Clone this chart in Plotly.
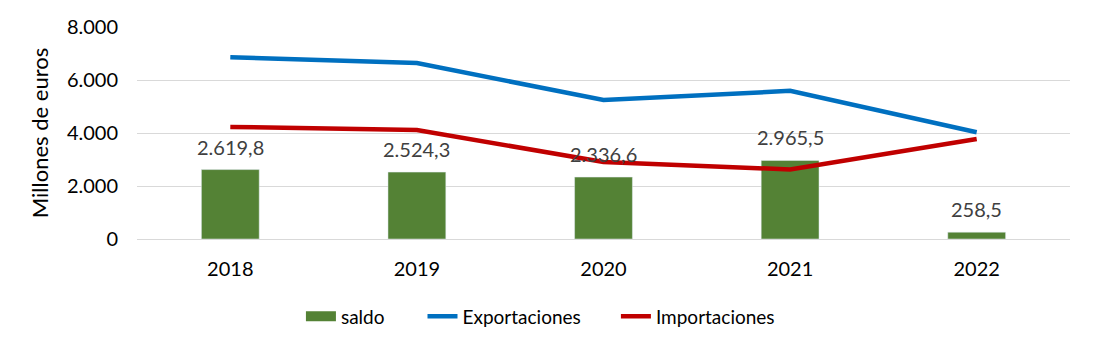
import plotly.graph_objects as go

years = ["2018", "2019", "2020", "2021", "2022"]
saldo = [2619.8, 2524.3, 2336.6, 2965.5, 258.5]
exportaciones = [6860, 6640, 5245, 5590, 4030]
importaciones = [4230, 4115, 2905, 2625, 3772]
y_ticks = [0, 2000, 4000, 6000, 8000]


def es_fmt(v, dec=1):
    s = f"{v:,.{dec}f}"
    return s.replace(",", "X").replace(".", ",").replace("X", ".")


FONT = "Lato"
fig = go.Figure()
fig.add_trace(go.Bar(x=years, y=saldo, name="saldo", marker_color="#548235",
                     width=0.31, showlegend=False))
# legend swatch for the bars (wide rectangle like the reference)
fig.add_trace(go.Scatter(x=[years[0]], y=[None], name="saldo", mode="lines",
                         line=dict(color="#548235", width=12), legend="legend"))
fig.add_trace(go.Scatter(x=years, y=exportaciones, name="Exportaciones", mode="lines",
                         line=dict(color="#0070C0", width=4.5), legend="legend2"))
fig.add_trace(go.Scatter(x=years, y=importaciones, name="Importaciones", mode="lines",
                         line=dict(color="#C00000", width=4.5), legend="legend3"))

for i, v in enumerate(saldo):
    fig.add_annotation(x=i, y=v, text=es_fmt(v), showarrow=False, yshift=23,
                       font=dict(family=FONT, size=20, color="#404040"))

leg_common = dict(orientation="h", xanchor="left", y=-0.365, yanchor="middle",
                  font=dict(family=FONT, size=19, color="#000000"),
                  bgcolor="rgba(0,0,0,0)")
fig.update_layout(
    width=1097, height=352,
    margin=dict(l=137, r=27, t=27, b=113),
    plot_bgcolor="white", paper_bgcolor="white",
    separators=",.",
    font=dict(family=FONT, size=20, color="#000000"),
    showlegend=True,
    legend=dict(x=0.1757, **leg_common),
    legend2=dict(x=0.3060, **leg_common),
    legend3=dict(x=0.5133, **leg_common),
)
fig.update_xaxes(type="category", categoryorder="array", categoryarray=years,
                 range=[-0.5, len(years) - 0.5],
                 showgrid=False, showline=True, linecolor="#D9D9D9",
                 linewidth=1, ticks="", tickfont=dict(family=FONT, size=20),
                 ticklabelstandoff=12)
fig.update_yaxes(range=[0, 8000], tickvals=y_ticks, tickformat=",d",
                 showgrid=True, gridcolor="#D9D9D9", gridwidth=1, zeroline=False,
                 showline=False, ticks="", tickfont=dict(family=FONT, size=20),
                 ticklabelstandoff=18,
                 title=dict(text="Millones de euros", font=dict(family=FONT, size=22),
                            standoff=12))

fig.write_html("out.html")
